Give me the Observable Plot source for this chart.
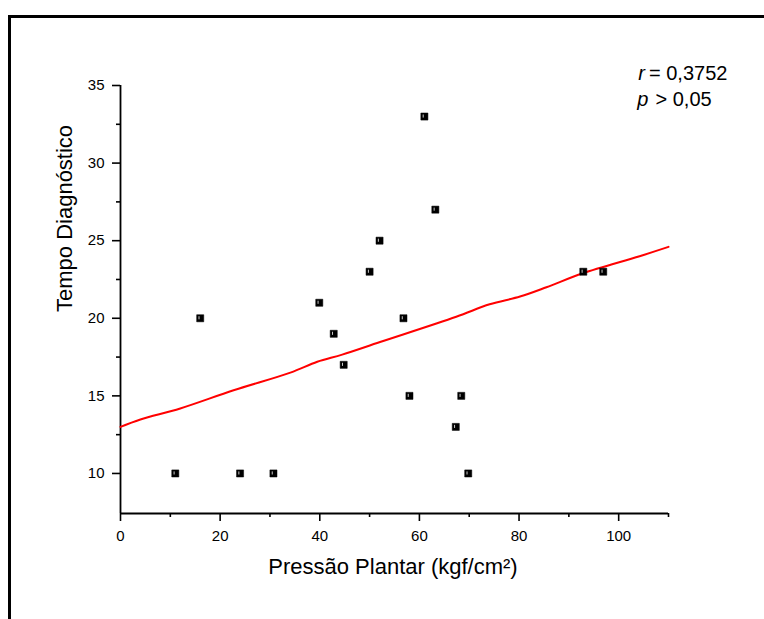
<!DOCTYPE html>
<html>
<head>
<meta charset="utf-8">
<script src="https://cdn.jsdelivr.net/npm/d3@7"></script>
<script src="https://cdn.jsdelivr.net/npm/@observablehq/plot@0.6"></script>
<style>
  html, body { margin: 0; padding: 0; background: #fff; }
  #wrap { position: relative; width: 764px; height: 619px; overflow: hidden; }
  #frame { position: absolute; left: 8px; top: 15px; width: 800px; height: 700px;
           border-left: 3px solid #000; border-top: 3px solid #000; box-sizing: border-box; }
  #chart { position: absolute; left: 0; top: 0; }
</style>
</head>
<body>
<div id="wrap">
  <div id="frame"></div>
  <div id="chart"></div>
</div>
<script>
// Scatter data: Pressão Plantar (kgf/cm²) vs Tempo Diagnóstico
const pressao = [11, 16, 24, 30.7, 39.9, 42.8, 44.8, 50, 52, 56.8, 58, 61, 63.2, 67.3, 68.4, 69.8, 92.9, 96.9];
const tempo   = [10, 20, 10, 10,   21,   19,   17,   23, 25, 20,   15, 33, 27,   13,   15,   10,   23,   23];

// Red fitted curve
const fitX = [0, 4, 12, 22.7, 34.1, 39.5, 44.5, 52.1, 67.4, 74.1, 80.2, 85.5, 92.8, 104.2, 110];
const fitY = [13.0, 13.48, 14.19, 15.36, 16.5, 17.2, 17.66, 18.47, 20.1, 20.9, 21.4, 22.0, 22.9, 24.0, 24.6];

const xMajor = [0, 20, 40, 60, 80, 100];
const xMinor = [10, 30, 50, 70, 90, 110];
const yMajor = [10, 15, 20, 25, 30, 35];
const yMinor = [12.5, 17.5, 22.5, 27.5, 32.5];

const xLabel = "Pressão Plantar (kgf/cm²)";
const yLabel = "Tempo Diagnóstico";
const statR = "0,3752";
const statP = "0,05";

const points = pressao.map((x, i) => ({x, y: tempo[i]}));
const fit = fitX.map((x, i) => ({x, y: fitY[i]}));

const font = "'Liberation Sans', Arial, Helvetica, sans-serif";

const chart = Plot.plot({
  width: 764,
  height: 619,
  marginLeft: 120,
  marginRight: 96,
  marginTop: 85,
  marginBottom: 106,
  style: {fontFamily: font, fontSize: "15px", color: "#000", background: "transparent", overflow: "visible"},
  x: {domain: [0, 110]},
  y: {domain: [7.42, 35]},
  marks: [
    // axes lines
    Plot.ruleY([7.42], {stroke: "#000", strokeWidth: 1.8}),
    Plot.ruleX([0], {stroke: "#000", strokeWidth: 1.8}),
    Plot.axisX(xMajor, {tickSize: 8, tickPadding: 9, strokeWidth: 1.6, fontSize: 15, label: null}),
    Plot.axisX(xMinor, {tickSize: 4, strokeWidth: 1.6, tickFormat: () => "", label: null}),
    Plot.axisY(yMajor, {tickSize: 8, tickPadding: 8, strokeWidth: 1.6, fontSize: 15, label: null}),
    Plot.axisY(yMinor, {tickSize: 4, strokeWidth: 1.6, tickFormat: () => "", label: null}),
    // fitted curve
    Plot.line(fit, {x: "x", y: "y", stroke: "#ff0000", strokeWidth: 2, curve: "catmull-rom"}),
    // points
    Plot.dot(points, {x: "x", y: "y", symbol: "square", r: 4, fill: "#000", stroke: "#000", strokeWidth: 0.5}),
    Plot.ruleX(points, {x: "x", y1: d => d.y - 0.1, y2: d => d.y + 0.1, dx: -1.2, stroke: "#fff", strokeWidth: 0.8}),
    // axis titles
    Plot.text([xLabel], {frameAnchor: "bottom", dx: -1.5, dy: 53.3, fontSize: 22, lineAnchor: "middle", fill: "#000"}),
    Plot.text([yLabel], {frameAnchor: "left", dx: -55.5, dy: 12.5, rotate: -90, fontSize: 22, lineAnchor: "middle", fill: "#000"}),
    // statistics annotation
    Plot.text(["r"], {frameAnchor: "top-left", dx: 517.7, dy: -12.1, fontSize: 20, fontStyle: "italic", textAnchor: "start", lineAnchor: "middle", fill: "#000"}),
    Plot.text(["= " + statR], {frameAnchor: "top-left", dx: 528.5, dy: -12.1, fontSize: 20, textAnchor: "start", lineAnchor: "middle", fill: "#000"}),
    Plot.text(["p"], {frameAnchor: "top-left", dx: 516.7, dy: 13.6, fontSize: 20, fontStyle: "italic", textAnchor: "start", lineAnchor: "middle", fill: "#000"}),
    Plot.text(["> " + statP], {frameAnchor: "top-left", dx: 535, dy: 13.6, fontSize: 20, textAnchor: "start", lineAnchor: "middle", fill: "#000"})
  ]
});
document.getElementById("chart").appendChild(chart);
</script>
</body>
</html>
